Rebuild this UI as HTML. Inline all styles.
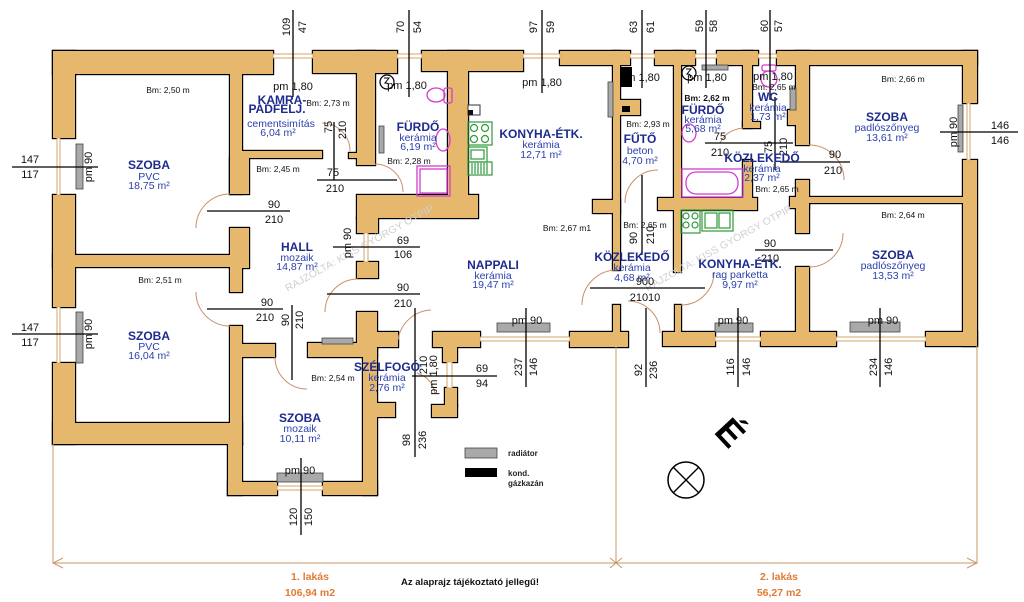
<!DOCTYPE html>
<html><head><meta charset="utf-8">
<style>
html,body{margin:0;padding:0;background:#fff;}
svg{display:block;font-family:"Liberation Sans",Arial,sans-serif;}
.n{font-weight:bold;font-size:12px;fill:#1d2b8e;text-anchor:middle}
.s{font-size:10.5px;fill:#2a3fae;text-anchor:middle}
.b{font-size:8.5px;fill:#111;text-anchor:middle}
.d{font-size:11px;fill:#111;text-anchor:middle}
.dl{stroke:#000;stroke-width:1.3;fill:none}
.arc{stroke:#c98f6a;stroke-width:1;fill:none}
.win{fill:#fff;stroke:#d4a46a;stroke-width:1}
.rad{fill:#a9a9a9;stroke:#444;stroke-width:.8}
.mg{fill:none;stroke:#d23ccf;stroke-width:1.3}
.gr{fill:none;stroke:#2e9a3a;stroke-width:1.2}
.o{font-weight:bold;font-size:10.5px;fill:#e07b35;text-anchor:middle}
.wm{font-size:10px;fill:#cfcfcf;text-anchor:middle}
.lg{font-weight:bold;font-size:8px;fill:#222}
.ol{stroke:#c99a68;stroke-width:1;fill:none}
</style></head><body>
<svg width="1024" height="602" viewBox="0 0 1024 602" xmlns="http://www.w3.org/2000/svg">
<rect width="1024" height="602" fill="#fff"/>
<defs>
<g id="w">
<rect x="53" y="51" width="220" height="23"/>
<rect x="313" y="51" width="84" height="22"/>
<rect x="422" y="51" width="101" height="20"/>
<rect x="53" y="51" width="22" height="87"/>
<rect x="53" y="195" width="22" height="112"/>
<rect x="53" y="363" width="22" height="81"/>
<rect x="53" y="423" width="189" height="21"/>
<rect x="53" y="255" width="177" height="12"/>
<rect x="230" y="74" width="12" height="120"/>
<rect x="230" y="158" width="19" height="36"/>
<rect x="242" y="151" width="80" height="7"/>
<rect x="349" y="153" width="8" height="5"/>
<rect x="357" y="51" width="18" height="114"/>
<rect x="357" y="195" width="121" height="23"/>
<rect x="448" y="51" width="20" height="149"/>
<rect x="357" y="218" width="21" height="15"/>
<rect x="357" y="262" width="21" height="16"/>
<rect x="230" y="228" width="19" height="40"/>
<rect x="230" y="268" width="12" height="24"/>
<rect x="230" y="326" width="12" height="118"/>
<rect x="228" y="444" width="14" height="51"/>
<rect x="228" y="482" width="49" height="13"/>
<rect x="323" y="482" width="54" height="13"/>
<rect x="242" y="344" width="33" height="13"/>
<rect x="308" y="343" width="69" height="14"/>
<rect x="363" y="343" width="14" height="152"/>
<rect x="377" y="403" width="18" height="14"/>
<rect x="357" y="312" width="20" height="35"/>
<rect x="377" y="332" width="21" height="15"/>
<rect x="433" y="332" width="47" height="15"/>
<rect x="443" y="347" width="14" height="15"/>
<rect x="445" y="388" width="12" height="18"/>
<rect x="432" y="405" width="25" height="12"/>
<rect x="570" y="332" width="58" height="15"/>
<rect x="613" y="305" width="7" height="27"/>
<rect x="560" y="51" width="70" height="14"/>
<rect x="655" y="51" width="40" height="14"/>
<rect x="717" y="51" width="41" height="14"/>
<rect x="777" y="51" width="200" height="14"/>
<rect x="963" y="51" width="14" height="52"/>
<rect x="963" y="160" width="14" height="186"/>
<rect x="663" y="332" width="52" height="14"/>
<rect x="761" y="332" width="75" height="14"/>
<rect x="926" y="332" width="51" height="14"/>
<rect x="675" y="305" width="6" height="27"/>
<rect x="613" y="51" width="7" height="219"/>
<rect x="593" y="200" width="27" height="13"/>
<rect x="674" y="51" width="7" height="221"/>
<rect x="658" y="198" width="99" height="12"/>
<rect x="618" y="100" width="22" height="15"/>
<rect x="743" y="51" width="9" height="77"/>
<rect x="743" y="122" width="17" height="6"/>
<rect x="743" y="160" width="9" height="38"/>
<rect x="796" y="51" width="13" height="94"/>
<rect x="788" y="110" width="8" height="15"/>
<rect x="796" y="180" width="13" height="53"/>
<rect x="790" y="197" width="19" height="11"/>
<rect x="796" y="267" width="13" height="65"/>
<rect x="809" y="197" width="154" height="6"/>
</g>
</defs>
<use href="#w" fill="#e6b86e" stroke="#000" stroke-width="2.4"/>
<use href="#w" fill="#e6b86e" stroke="none"/>

<!-- windows -->
<rect class="win" x="273" y="54" width="40" height="4"/>
<rect class="win" x="397" y="54" width="25" height="4"/>
<rect class="win" x="523" y="54" width="37" height="4"/>
<rect class="win" x="630" y="54" width="25" height="4"/>
<rect class="win" x="695" y="54" width="22" height="4"/>
<rect class="win" x="758" y="54" width="19" height="4"/>
<rect class="win" x="57" y="138" width="3" height="57"/>
<rect class="win" x="57" y="307" width="3" height="56"/>
<rect class="win" x="967" y="103" width="3" height="57"/>
<rect class="win" x="480" y="337" width="90" height="4"/>
<rect class="win" x="715" y="337" width="46" height="4"/>
<rect class="win" x="836" y="337" width="90" height="4"/>
<rect class="win" x="277" y="486" width="46" height="4"/>
<rect class="win" x="364" y="233" width="4" height="29"/>
<rect class="win" x="447" y="362" width="5" height="26"/>

<!-- radiators -->
<rect class="rad" x="76" y="144" width="7" height="45"/>
<rect class="rad" x="76" y="312" width="7" height="51"/>
<rect class="rad" x="277" y="473" width="46" height="9"/>
<rect class="rad" x="322" y="338" width="31" height="6"/>
<rect class="rad" x="379" y="126" width="5" height="27"/>
<rect class="rad" x="497" y="323" width="53" height="9"/>
<rect class="rad" x="608" y="82" width="5" height="35"/>
<rect class="rad" x="702" y="65" width="26" height="5"/>
<rect class="rad" x="790" y="88" width="6" height="22"/>
<rect class="rad" x="958" y="105" width="5" height="47"/>
<rect class="rad" x="715" y="323" width="38" height="9"/>
<rect class="rad" x="850" y="322" width="50" height="10"/>

<!-- fixtures -->
<ellipse class="mg" cx="436" cy="95" rx="9" ry="7"/>
<rect class="mg" x="444" y="88" width="8" height="15" rx="2"/>
<ellipse class="mg" cx="443" cy="140" rx="7" ry="11"/>
<rect class="mg" x="417" y="166" width="33" height="30"/>
<rect class="mg" x="420" y="169" width="27" height="24"/>
<rect x="468" y="105" width="12" height="10" fill="#fff" stroke="#333" stroke-width="1"/>
<rect x="468" y="110" width="5" height="5" fill="#111"/>
<rect class="gr" x="468" y="122" width="24" height="23"/>
<circle class="gr" cx="474" cy="128" r="3.5"/><circle class="gr" cx="485" cy="128" r="3.5"/>
<circle class="gr" cx="474" cy="139" r="3.5"/><circle class="gr" cx="485" cy="139" r="3.5"/>
<rect class="gr" x="468" y="147" width="19" height="15"/>
<rect class="gr" x="471" y="150" width="13" height="9"/>
<rect class="gr" x="468" y="162" width="24" height="13"/>
<path class="gr" d="M472 163v11M475 163v11M478 163v11M481 163v11M484 163v11M487 163v11"/>
<ellipse class="mg" cx="689" cy="133" rx="7" ry="9"/>
<rect class="mg" x="682" y="169" width="61" height="28"/>
<rect class="mg" x="686" y="172" width="52" height="22" rx="10"/>
<rect class="mg" x="762" y="65" width="14" height="6" rx="2"/>
<ellipse class="mg" cx="769" cy="79" rx="8" ry="8"/>
<rect class="gr" x="681" y="210" width="19" height="23"/>
<circle class="gr" cx="686" cy="216" r="3"/><circle class="gr" cx="695" cy="216" r="3"/>
<circle class="gr" cx="686" cy="225" r="3"/><circle class="gr" cx="695" cy="225" r="3"/>
<rect class="gr" x="702" y="210" width="31" height="21"/>
<rect class="gr" x="705" y="213" width="12" height="15"/>
<rect class="gr" x="719" y="213" width="11" height="15"/>
<circle cx="387" cy="82" r="7" fill="#fff" stroke="#000" stroke-width="1.2"/>
<path d="M384 78h5l-4 5q5 0 3 4" fill="none" stroke="#000" stroke-width="1"/>
<circle cx="689" cy="73" r="7" fill="#fff" stroke="#000" stroke-width="1.2"/>
<path d="M686 69h5l-4 5q5 0 3 4" fill="none" stroke="#000" stroke-width="1"/>

<!-- door arcs -->
<path class="arc" d="M230 194 A34 34 0 0 0 196 228"/>
<path class="arc" d="M196 292 A34 34 0 0 0 230 326"/>
<path class="arc" d="M322 123 A28 28 0 0 1 350 151"/>
<path class="arc" d="M375 164 A28 28 0 0 1 403 192"/>
<path class="arc" d="M325 312 A33 33 0 0 1 358 279"/>
<path class="arc" d="M275 357 A32 32 0 0 0 307 389"/>
<path class="arc" d="M398 340 A35 35 0 0 1 431 310"/>
<path class="arc" d="M417 373 Q432 378 435 393"/>
<path class="arc" d="M617 270 A35 35 0 0 0 582 305"/>
<path class="arc" d="M628 301 A32 32 0 0 1 660 333"/>
<path class="arc" d="M714 272 A33 33 0 0 1 681 305"/>
<path class="arc" d="M625 203 A33 33 0 0 1 658 170"/>
<path class="arc" d="M720 143 Q726 130 743 128"/>
<path class="arc" d="M809 145 A35 35 0 0 1 844 180"/>
<path class="arc" d="M843 233 A34 34 0 0 1 809 267"/>

<!-- kazan -->
<text class="d" x="640" y="81">pm 1,80</text>
<rect x="620" y="67" width="12" height="20" fill="#000"/>
<rect x="622" y="106" width="8" height="6" fill="#000"/>

<!-- watermarks -->
<text class="wm" transform="translate(361 251) rotate(-29)" textLength="168" lengthAdjust="spacingAndGlyphs">RAJZOLTA: KISS GYÖRGY OTPIP</text>
<text class="wm" transform="translate(720 251) rotate(-29)" textLength="166" lengthAdjust="spacingAndGlyphs">RAJZOLTA: KISS GYÖRGY OTPIP</text>

<!-- dimension lines -->
<path class="dl" d="M293 10V97M409 10V97M542 10V93M642 10V88M706 10V88M770 10V100"/>
<path class="dl" d="M12 167H98M12 334H98M940 132H1018"/>
<path class="dl" d="M334 122V180M317 180H397M207 211H290M333 247H420M207 309H283M292 305V380M327 294H420"/>
<path class="dl" d="M415 308V457M412 376H497M301 458V535M526 308V387M646 308V387M738 308V387M880 308V387"/>
<path class="dl" d="M642 175V255M590 288H705M705 143H793M775 97V170M780 162H850M755 250H833"/>

<!-- overall dims -->
<path class="ol" d="M53 444V563M977 346V563M616 347V563M53 563H977"/>
<path class="ol" d="M63 558L53 563L63 568M967 558L977 563L967 568M610 558L622 568M610 568L622 558"/>

<!-- north -->
<circle cx="686" cy="480" r="18" fill="none" stroke="#000" stroke-width="1.5"/>
<path d="M673 467L699 493M699 467L673 493" stroke="#000" stroke-width="1.4"/>
<text transform="translate(730 433) rotate(47)" y="12" style="font-weight:bold;font-size:36px;fill:#000;text-anchor:middle">É</text>

<!-- legend -->
<rect class="rad" x="465" y="448" width="32" height="10"/>
<rect x="465" y="468" width="32" height="9" fill="#000"/>
<text class="lg" x="508" y="456">radiátor</text>
<text class="lg" x="508" y="476">kond.</text>
<text class="lg" x="508" y="486">gázkazán</text>

<!-- left apartment texts -->
<text class="b" x="168" y="93">Bm: 2,50 m</text>
<text class="d" x="293" y="90">pm 1,80</text>
<text class="n" x="282" y="104">KAMRA-</text>
<text class="n" x="277" y="113">PADFELJ.</text>
<text class="s" x="281" y="127">cementsimítás</text>
<text class="s" x="278" y="136">6,04 m²</text>
<text class="b" x="328" y="106">Bm: 2,73 m</text>
<text class="d" transform="translate(328 127) rotate(-90)" y="4">75</text>
<text class="d" transform="translate(342 130) rotate(-90)" y="4">210</text>
<text class="d" x="333" y="176">75</text>
<text class="d" x="335" y="192">210</text>
<text class="d" x="30" y="163">147</text>
<text class="d" x="30" y="178">117</text>
<text class="d" transform="translate(88 167) rotate(-90)" y="4">pm 90</text>
<text class="n" x="149" y="169">SZOBA</text>
<text class="s" x="149" y="180">PVC</text>
<text class="s" x="149" y="189">18,75 m²</text>
<text class="b" x="278" y="172">Bm: 2,45 m</text>
<text class="d" x="274" y="208">90</text>
<text class="d" x="274" y="223">210</text>
<text class="n" x="297" y="251">HALL</text>
<text class="s" x="297" y="261">mozaik</text>
<text class="s" x="297" y="270">14,87 m²</text>
<text class="d" transform="translate(347 243) rotate(-90)" y="4">pm 90</text>
<text class="d" x="403" y="244">69</text>
<text class="d" x="403" y="258">106</text>
<text class="b" x="160" y="283">Bm: 2,51 m</text>
<text class="d" x="267" y="306">90</text>
<text class="d" x="265" y="321">210</text>
<text class="d" transform="translate(285 320) rotate(-90)" y="4">90</text>
<text class="d" transform="translate(299 320) rotate(-90)" y="4">210</text>
<text class="d" x="30" y="331">147</text>
<text class="d" x="30" y="346">117</text>
<text class="d" transform="translate(88 334) rotate(-90)" y="4">pm 90</text>
<text class="n" x="149" y="340">SZOBA</text>
<text class="s" x="149" y="350">PVC</text>
<text class="s" x="149" y="359">16,04 m²</text>
<text class="d" x="403" y="291">90</text>
<text class="d" x="403" y="307">210</text>
<text class="b" x="333" y="381">Bm: 2,54 m</text>
<text class="n" x="300" y="422">SZOBA</text>
<text class="s" x="300" y="432">mozaik</text>
<text class="s" x="300" y="442">10,11 m²</text>
<text class="d" x="300" y="474">pm 90</text>
<text class="d" transform="translate(293 517) rotate(-90)" y="4">120</text>
<text class="d" transform="translate(308 517) rotate(-90)" y="4">150</text>
<text class="n" x="387" y="371">SZÉLFOGÓ</text>
<text class="s" x="387" y="381">kerámia</text>
<text class="s" x="387" y="391">2,76 m²</text>
<text class="d" transform="translate(423 365) rotate(-90)" y="4">210</text>
<text class="d" transform="translate(433 375) rotate(-90)" y="4">pm 1,80</text>
<text class="d" x="482" y="372">69</text>
<text class="d" x="482" y="387">94</text>
<text class="d" transform="translate(406 440) rotate(-90)" y="4">98</text>
<text class="d" transform="translate(422 440) rotate(-90)" y="4">236</text>
<text class="n" x="418" y="131">FÜRDŐ</text>
<text class="s" x="418" y="141">kerámia</text>
<text class="s" x="418" y="150">6,19 m²</text>
<text class="d" x="407" y="89">pm 1,80</text>
<text class="b" x="409" y="164">Bm: 2,28 m</text>
<text class="d" x="542" y="86">pm 1,80</text>
<text class="n" x="541" y="138">KONYHA-ÉTK.</text>
<text class="s" x="541" y="148">kerámia</text>
<text class="s" x="541" y="158">12,71 m²</text>
<text class="b" x="567" y="231">Bm: 2,67 m1</text>
<text class="n" x="493" y="269">NAPPALI</text>
<text class="s" x="493" y="279">kerámia</text>
<text class="s" x="493" y="288">19,47 m²</text>
<text class="d" x="527" y="324">pm 90</text>
<text class="d" transform="translate(518 367) rotate(-90)" y="4">237</text>
<text class="d" transform="translate(533 367) rotate(-90)" y="4">146</text>
<text class="d" transform="translate(638 370) rotate(-90)" y="4">92</text>
<text class="d" transform="translate(653 370) rotate(-90)" y="4">236</text>

<!-- top dims -->
<text class="d" transform="translate(286 27) rotate(-90)" y="4">109</text>
<text class="d" transform="translate(302 27) rotate(-90)" y="4">47</text>
<text class="d" transform="translate(400 27) rotate(-90)" y="4">70</text>
<text class="d" transform="translate(417 27) rotate(-90)" y="4">54</text>
<text class="d" transform="translate(533 27) rotate(-90)" y="4">97</text>
<text class="d" transform="translate(550 27) rotate(-90)" y="4">59</text>
<text class="d" transform="translate(633 27) rotate(-90)" y="4">63</text>
<text class="d" transform="translate(650 27) rotate(-90)" y="4">61</text>
<text class="d" transform="translate(699 26) rotate(-90)" y="4">59</text>
<text class="d" transform="translate(713 26) rotate(-90)" y="4">58</text>
<text class="d" transform="translate(764 26) rotate(-90)" y="4">60</text>
<text class="d" transform="translate(778 26) rotate(-90)" y="4">57</text>

<!-- right apartment texts -->
<text class="b" x="648" y="127">Bm: 2,93 m</text>
<text class="n" x="640" y="143">FŰTŐ</text>
<text class="s" x="640" y="154">beton</text>
<text class="s" x="640" y="164">4,70 m²</text>
<text class="b" x="645" y="228">Bm: 2,65 m</text>
<text class="d" transform="translate(633 238) rotate(-90)" y="4">90</text>
<text class="d" transform="translate(650 235) rotate(-90)" y="4">210</text>
<text class="n" x="632" y="261">KÖZLEKEDŐ</text>
<text class="s" x="632" y="271">kerámia</text>
<text class="s" x="632" y="281">4,68 m²</text>
<text class="d" x="645" y="285">900</text>
<text class="d" x="645" y="301">21010</text>
<text class="d" x="707" y="81">pm 1,80</text>
<text class="b" x="707" y="101" style="font-weight:bold">Bm: 2,62 m</text>
<text class="n" x="703" y="114">FÜRDŐ</text>
<text class="s" x="703" y="123">kerámia</text>
<text class="s" x="703" y="132">5,68 m²</text>
<text class="d" x="720" y="140">75</text>
<text class="d" x="720" y="156">210</text>
<text class="d" transform="translate(768 147) rotate(-90)" y="4">75</text>
<text class="d" transform="translate(783 147) rotate(-90)" y="4">210</text>
<text class="d" x="773" y="80">pm 1,80</text>
<text class="b" x="774" y="90">Bm: 2,65 m</text>
<text class="n" x="768" y="101">WC</text>
<text class="s" x="768" y="111">kerámia</text>
<text class="s" x="768" y="120">1,73 m²</text>
<text class="n" x="762" y="162">KÖZLEKEDŐ</text>
<text class="s" x="762" y="172">kerámia</text>
<text class="s" x="762" y="181">2,37 m²</text>
<text class="b" x="777" y="192">Bm: 2,65 m</text>
<text class="d" x="835" y="158">90</text>
<text class="d" x="833" y="174">210</text>
<text class="b" x="903" y="82">Bm: 2,66 m</text>
<text class="n" x="887" y="121">SZOBA</text>
<text class="s" x="887" y="131">padlószőnyeg</text>
<text class="s" x="887" y="141">13,61 m²</text>
<text class="d" x="1000" y="129">146</text>
<text class="d" x="1000" y="144">146</text>
<text class="d" transform="translate(953 132) rotate(-90)" y="4">pm 90</text>
<text class="b" x="903" y="218">Bm: 2,64 m</text>
<text class="n" x="893" y="259">SZOBA</text>
<text class="s" x="893" y="269">padlószőnyeg</text>
<text class="s" x="893" y="279">13,53 m²</text>
<text class="d" x="770" y="247">90</text>
<text class="d" x="770" y="262">210</text>
<text class="n" x="740" y="268">KONYHA-ÉTK.</text>
<text class="s" x="740" y="278">rag parketta</text>
<text class="s" x="740" y="288">9,97 m²</text>
<text class="d" x="733" y="324">pm 90</text>
<text class="d" transform="translate(730 367) rotate(-90)" y="4">116</text>
<text class="d" transform="translate(746 367) rotate(-90)" y="4">146</text>
<text class="d" x="883" y="324">pm 90</text>
<text class="d" transform="translate(873 367) rotate(-90)" y="4">234</text>
<text class="d" transform="translate(888 367) rotate(-90)" y="4">146</text>

<!-- bottom labels -->
<text class="o" x="310" y="580">1. lakás</text>
<text class="o" x="310" y="596">106,94 m2</text>
<text x="470" y="585" style="font-weight:bold;font-size:9.5px;fill:#111;text-anchor:middle" textLength="138" lengthAdjust="spacingAndGlyphs">Az alaprajz tájékoztató jellegű!</text>
<text class="o" x="779" y="580">2. lakás</text>
<text class="o" x="779" y="596">56,27 m2</text>
</svg>
</body></html>
